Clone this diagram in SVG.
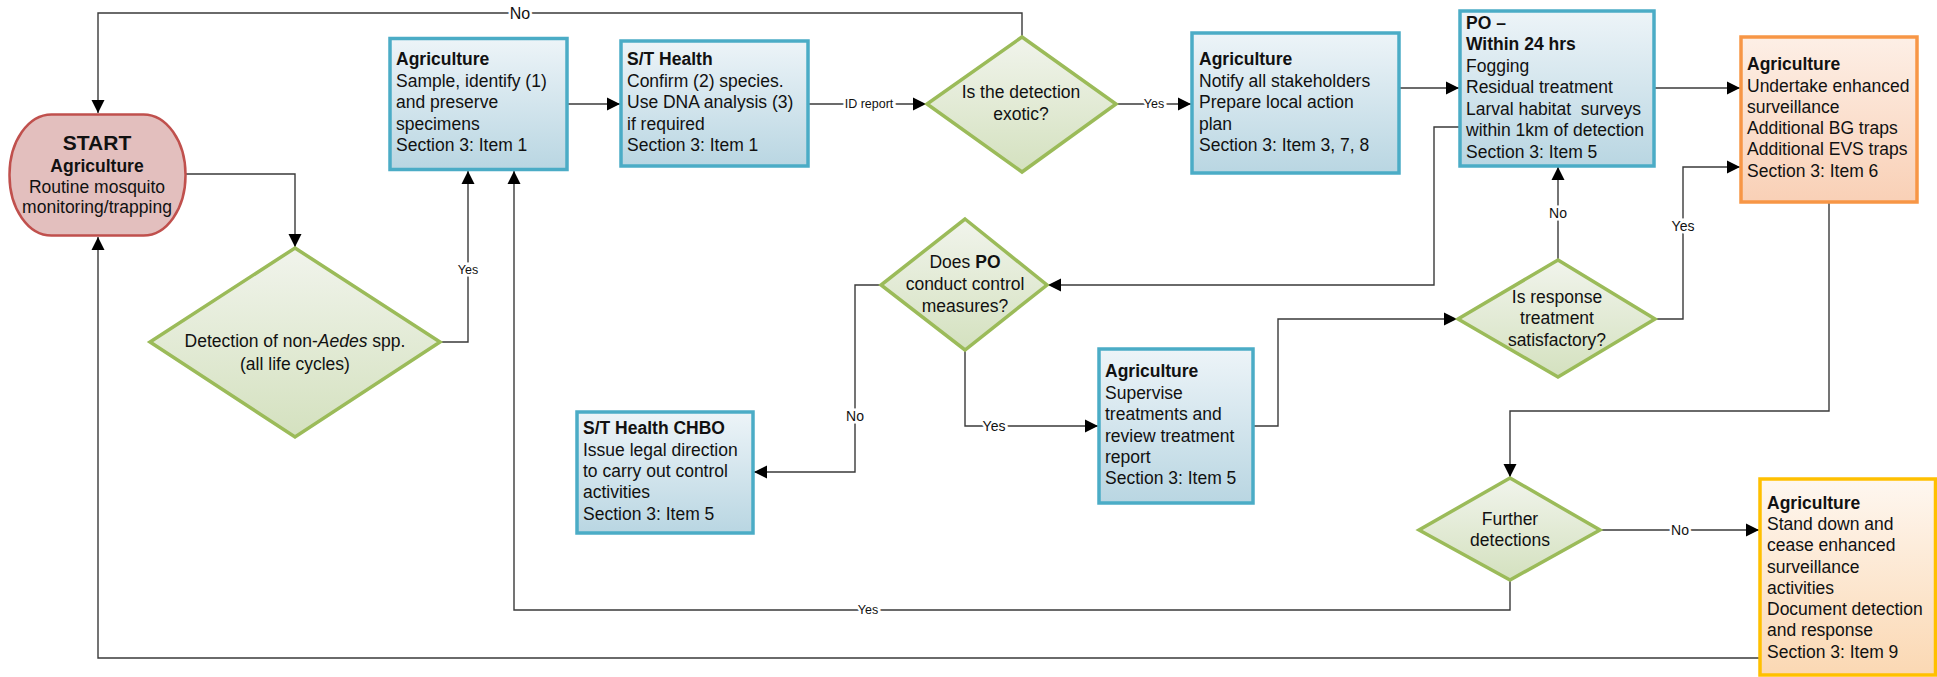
<svg xmlns="http://www.w3.org/2000/svg" width="1937" height="677" viewBox="0 0 1937 677">
<style>
text{font-family:"Liberation Sans",Arial,sans-serif;fill:#111;}
.t{font-size:17.5px;}
.c{text-anchor:middle;}
.b{font-weight:bold;}
.box{stroke:#4bacc6;stroke-width:3.5;fill:url(#gBlue);}
.dia{stroke:#9bbb59;stroke-width:3.5;fill:url(#gGreen);stroke-linejoin:miter;}
.con{fill:none;stroke:#3a3a3a;stroke-width:1.4;}
.lbl{font-size:12.5px;text-anchor:middle;dominant-baseline:central;stroke:#fff;stroke-width:5;paint-order:stroke;}
.lblb{font-size:16px;text-anchor:middle;dominant-baseline:central;stroke:#fff;stroke-width:5;paint-order:stroke;}
</style>
<defs>
<linearGradient id="gBlue" x1="0" y1="0" x2="0" y2="1"><stop offset="0" stop-color="#edf4f8"/><stop offset="1" stop-color="#b9d6e2"/></linearGradient>
<linearGradient id="gGreen" x1="0" y1="0" x2="0" y2="1"><stop offset="0" stop-color="#f1f4ec"/><stop offset="1" stop-color="#d4e1bf"/></linearGradient>
<linearGradient id="gOrange" x1="0" y1="0" x2="0" y2="1"><stop offset="0" stop-color="#fdefe6"/><stop offset="1" stop-color="#f9d0b6"/></linearGradient>
<linearGradient id="gGold" x1="0" y1="0" x2="0" y2="1"><stop offset="0" stop-color="#fef7f0"/><stop offset="1" stop-color="#fbd8b3"/></linearGradient>
<marker id="arr" markerUnits="userSpaceOnUse" markerWidth="14" markerHeight="14" viewBox="0 0 14 14" refX="13" refY="7" orient="auto">
<path d="M0,0.5 L13,7 L0,13.5 Z" fill="#000"/>
</marker>
</defs>

<g id="connectors">
<polyline class="con" points="1022,37 1022,13 98,13 98,113" marker-end="url(#arr)"/>
<polyline class="con" points="186,174 295,174 295,247" marker-end="url(#arr)"/>
<polyline class="con" points="440,342 468,342 468,171" marker-end="url(#arr)"/>
<polyline class="con" points="567,104 620,104" marker-end="url(#arr)"/>
<polyline class="con" points="808,104 926,104" marker-end="url(#arr)"/>
<polyline class="con" points="1116,104 1191,104" marker-end="url(#arr)"/>
<polyline class="con" points="1399,88 1459,88" marker-end="url(#arr)"/>
<polyline class="con" points="1654,88 1740,88" marker-end="url(#arr)"/>
<polyline class="con" points="1460,127 1434,127 1434,285 1048,285" marker-end="url(#arr)"/>
<polyline class="con" points="881,285 855,285 855,472 754,472" marker-end="url(#arr)"/>
<polyline class="con" points="965,350 965,426 1098,426" marker-end="url(#arr)"/>
<polyline class="con" points="1253,426 1278,426 1278,319 1457,319" marker-end="url(#arr)"/>
<polyline class="con" points="1558,260 1558,167" marker-end="url(#arr)"/>
<polyline class="con" points="1655,319 1683,319 1683,167 1740,167" marker-end="url(#arr)"/>
<polyline class="con" points="1829,202 1829,411 1510,411 1510,477" marker-end="url(#arr)"/>
<polyline class="con" points="1600,530 1759,530" marker-end="url(#arr)"/>
<polyline class="con" points="1510,580 1510,610 514,610 514,171" marker-end="url(#arr)"/>
<polyline class="con" points="1760,658 98,658 98,237" marker-end="url(#arr)"/>
<text class="lblb" x="520" y="13">No</text>
<text class="lbl" x="468" y="270">Yes</text>
<text class="lbl" x="869" y="104">ID report</text>
<text class="lbl" x="1154" y="104">Yes</text>
<text class="lbl" x="855" y="416" style="font-size:14px">No</text>
<text class="lbl" x="994" y="426" style="font-size:14px">Yes</text>
<text class="lbl" x="1558" y="213" style="font-size:14px">No</text>
<text class="lbl" x="1683" y="226" style="font-size:14px">Yes</text>
<text class="lbl" x="1680" y="530" style="font-size:14px">No</text>
<text class="lbl" x="868" y="610">Yes</text>
</g>

<g id="start">
<rect x="9.5" y="114.5" width="176" height="121" rx="42" ry="60" fill="#e3bfbe" stroke="#c0504d" stroke-width="2.5"/>
<text class="c b" x="97" y="150" style="font-size:21px">START</text>
<text class="t c b" x="97" y="171.5">Agriculture</text>
<text class="t c" x="97" y="192.5">Routine mosquito</text>
<text class="t c" x="97" y="213">monitoring/trapping</text>
</g>

<g id="d-non-aedes">
<polygon class="dia" points="295,248 440,342 295,437 150,342"/>
<text class="t c" x="295" y="347">Detection of non-<tspan font-style="italic">Aedes</tspan> spp.</text>
<text class="t c" x="295" y="370">(all life cycles)</text>
</g>

<g id="agri-sample">
<rect class="box" x="390" y="38.5" width="177" height="131"/>
<text class="t" x="396"><tspan class="b" x="396" y="65">Agriculture</tspan><tspan x="396" y="86.5">Sample, identify (1)</tspan><tspan x="396" y="108">and preserve</tspan><tspan x="396" y="129.5">specimens</tspan><tspan x="396" y="151">Section 3: Item 1</tspan></text>
</g>

<g id="st-health">
<rect class="box" x="621" y="41" width="187" height="125"/>
<text class="t" x="627"><tspan class="b" x="627" y="65">S/T Health</tspan><tspan x="627" y="86.5">Confirm (2) species.</tspan><tspan x="627" y="108">Use DNA analysis (3)</tspan><tspan x="627" y="129.5">if required</tspan><tspan x="627" y="151">Section 3: Item 1</tspan></text>
</g>

<g id="d-exotic">
<polygon class="dia" points="1022,37 1116,104 1022,172 927,104"/>
<text class="t c" x="1021" y="98">Is the detection</text>
<text class="t c" x="1021" y="120">exotic?</text>
</g>

<g id="agri-notify">
<rect class="box" x="1192" y="33" width="207" height="140"/>
<text class="t" x="1199"><tspan class="b" x="1199" y="65">Agriculture</tspan><tspan x="1199" y="86.5">Notify all stakeholders</tspan><tspan x="1199" y="108">Prepare local action</tspan><tspan x="1199" y="129.5">plan</tspan><tspan x="1199" y="151">Section 3: Item 3, 7, 8</tspan></text>
</g>

<g id="po-24hrs">
<rect class="box" x="1460" y="11" width="194" height="155"/>
<text class="t" x="1466"><tspan class="b" x="1466" y="28.5">PO –</tspan><tspan class="b" x="1466" y="50">Within 24 hrs</tspan><tspan x="1466" y="71.5">Fogging</tspan><tspan x="1466" y="93">Residual treatment</tspan><tspan x="1466" y="114.5">Larval habitat&#160; surveys</tspan><tspan x="1466" y="136">within 1km of detection</tspan><tspan x="1466" y="157.5">Section 3: Item 5</tspan></text>
</g>

<g id="agri-enhanced">
<rect x="1741" y="37" width="176" height="165" fill="url(#gOrange)" stroke="#f79646" stroke-width="3.5"/>
<text class="t" x="1747"><tspan class="b" x="1747" y="70">Agriculture</tspan><tspan x="1747" y="91.5">Undertake enhanced</tspan><tspan x="1747" y="113">surveillance</tspan><tspan x="1747" y="134">Additional BG traps</tspan><tspan x="1747" y="155">Additional EVS traps</tspan><tspan x="1747" y="176.5">Section 3: Item 6</tspan></text>
</g>

<g id="d-po-control">
<polygon class="dia" points="965,219 1047,285 965,350 881,285"/>
<text class="t c" x="965" y="268">Does <tspan class="b">PO</tspan></text>
<text class="t c" x="965" y="290">conduct control</text>
<text class="t c" x="965" y="311.5">measures?</text>
</g>

<g id="st-chbo">
<rect class="box" x="577" y="412" width="176" height="121"/>
<text class="t" x="583"><tspan class="b" x="583" y="434">S/T Health CHBO</tspan><tspan x="583" y="455.5">Issue legal direction</tspan><tspan x="583" y="477">to carry out control</tspan><tspan x="583" y="498">activities</tspan><tspan x="583" y="519.5">Section 3: Item 5</tspan></text>
</g>

<g id="agri-supervise">
<rect class="box" x="1099" y="349" width="154" height="154"/>
<text class="t" x="1105"><tspan class="b" x="1105" y="377">Agriculture</tspan><tspan x="1105" y="398.5">Supervise</tspan><tspan x="1105" y="420">treatments and</tspan><tspan x="1105" y="441.5">review treatment</tspan><tspan x="1105" y="462.5">report</tspan><tspan x="1105" y="484">Section 3: Item 5</tspan></text>
</g>

<g id="d-response">
<polygon class="dia" points="1558,260 1655,319 1558,377 1458,319"/>
<text class="t c" x="1557" y="302.5">Is response</text>
<text class="t c" x="1557" y="324">treatment</text>
<text class="t c" x="1557" y="345.5">satisfactory?</text>
</g>

<g id="d-further">
<polygon class="dia" points="1510,478 1600,530 1510,580 1419,530"/>
<text class="t c" x="1510" y="525">Further</text>
<text class="t c" x="1510" y="546">detections</text>
</g>

<g id="agri-standdown">
<rect x="1760" y="479" width="175.5" height="196" fill="url(#gGold)" stroke="#ffc000" stroke-width="3.5"/>
<text class="t" x="1767"><tspan class="b" x="1767" y="508.5">Agriculture</tspan><tspan x="1767" y="530">Stand down and</tspan><tspan x="1767" y="551">cease enhanced</tspan><tspan x="1767" y="572.5">surveillance</tspan><tspan x="1767" y="593.5">activities</tspan><tspan x="1767" y="615">Document detection</tspan><tspan x="1767" y="636">and response</tspan><tspan x="1767" y="657.5">Section 3: Item 9</tspan></text>
</g>
</svg>
